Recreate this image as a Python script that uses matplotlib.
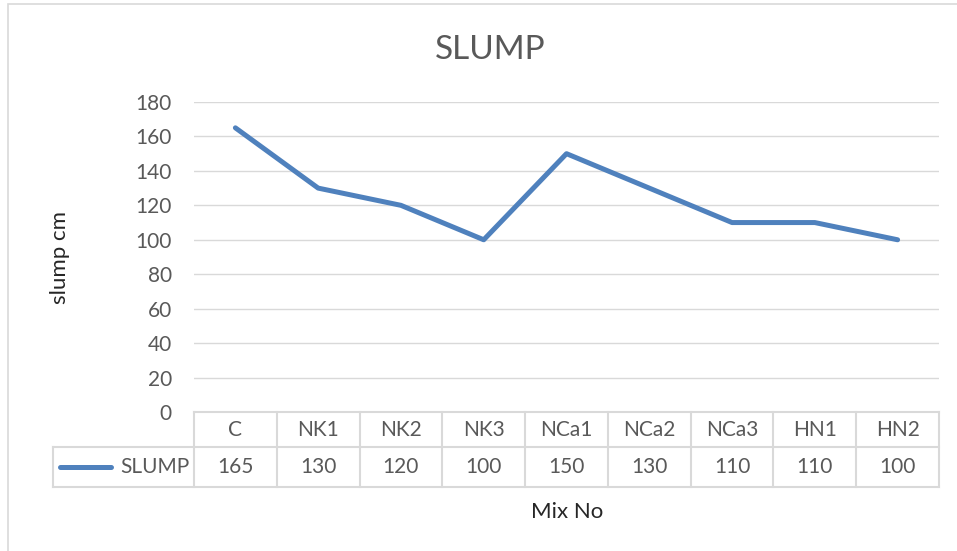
import matplotlib.pyplot as plt
from matplotlib.patches import Rectangle
from matplotlib.lines import Line2D


mixes = ["C", "NK1", "NK2", "NK3", "NCa1", "NCa2", "NCa3", "HN1", "HN2"]
slump = [165, 130, 120, 100, 150, 130, 110, 110, 100]
y_ticks = [0, 20, 40, 60, 80, 100, 120, 140, 160, 180]

W, H = 957, 551
BLUE = "#4F81BD"
GRID = "#D9D9D9"
TEXT = "#595959"

plt.rcParams["font.family"] = ["Lato", "DejaVu Sans"]

fig = plt.figure(figsize=(W / 100, H / 100), dpi=100)

# chart border (right and bottom edges fall outside the picture)
fig.patches.append(Rectangle((8 / W, -0.05), 1.2, 1.05 - 4 / H, transform=fig.transFigure,
                             fill=False, edgecolor=GRID, lw=1.2))

px_left, px_right, px_top, px_bottom = 194, 939, 102, 412
ax = fig.add_axes([px_left / W, 1 - px_bottom / H,
                   (px_right - px_left) / W, (px_bottom - px_top) / H])

x = [i + 0.5 for i in range(len(mixes))]
ax.plot(x, slump, color=BLUE, lw=3.6, solid_capstyle="round", solid_joinstyle="round", zorder=3)

ax.set_xlim(0, len(mixes))
ax.set_ylim(0, 180)
ax.set_yticks(y_ticks)
ax.set_xticks([])
ax.grid(axis="y", color=GRID, lw=1)
ax.set_axisbelow(True)
for s in ax.spines.values():
    s.set_visible(False)
ax.tick_params(axis="y", length=0, pad=16, labelsize=15, labelcolor=TEXT)

# data table below the plot
axis_h = px_bottom - px_top
row1 = -35 / axis_h
row2 = -75 / axis_h
leg_left = (53 - px_left) / (px_right - px_left) * len(mixes)
tr = ax.get_xaxis_transform()
n = len(mixes)

def hline(x0, x1, y):
    ax.add_line(Line2D([x0, x1], [y, y], transform=tr, color=GRID, lw=1.5, clip_on=False))

def vline(xx, y0, y1):
    ax.add_line(Line2D([xx, xx], [y0, y1], transform=tr, color=GRID, lw=1.5, clip_on=False))

hline(0, n, 0)
hline(leg_left, n, row1)
hline(leg_left, n, row2)
for i in range(n + 1):
    vline(i, 0, row2)
vline(leg_left, row1, row2)

for i, (m, v) in enumerate(zip(mixes, slump)):
    ax.text(i + 0.5, row1 / 2, m, transform=tr, ha="center", va="center",
            fontsize=15, color=TEXT, clip_on=False)
    ax.text(i + 0.5, (row1 + row2) / 2, str(v), transform=tr, ha="center", va="center",
            fontsize=15, color=TEXT, clip_on=False)

# legend key inside the table
ymid = (row1 + row2) / 2
ax.add_line(Line2D([leg_left + 0.08, leg_left + 0.7], [ymid, ymid], transform=tr,
                   color=BLUE, lw=3.6, solid_capstyle="round", clip_on=False))
ax.text(-0.06, ymid, "SLUMP", transform=tr, ha="right", va="center",
        fontsize=15, color=TEXT, clip_on=False)

fig.text(490 / W, 1 - 50 / H, "SLUMP", ha="center", va="center", fontsize=24, color=TEXT)
fig.text(60 / W, 1 - 257 / H, "slump cm", ha="center", va="center", rotation=90,
         fontsize=16, color="#262626")
fig.text(567 / W, 1 - 512 / H, "Mix No", ha="center", va="center", fontsize=16, color="#262626")

fig.savefig("out.png", dpi=100)
